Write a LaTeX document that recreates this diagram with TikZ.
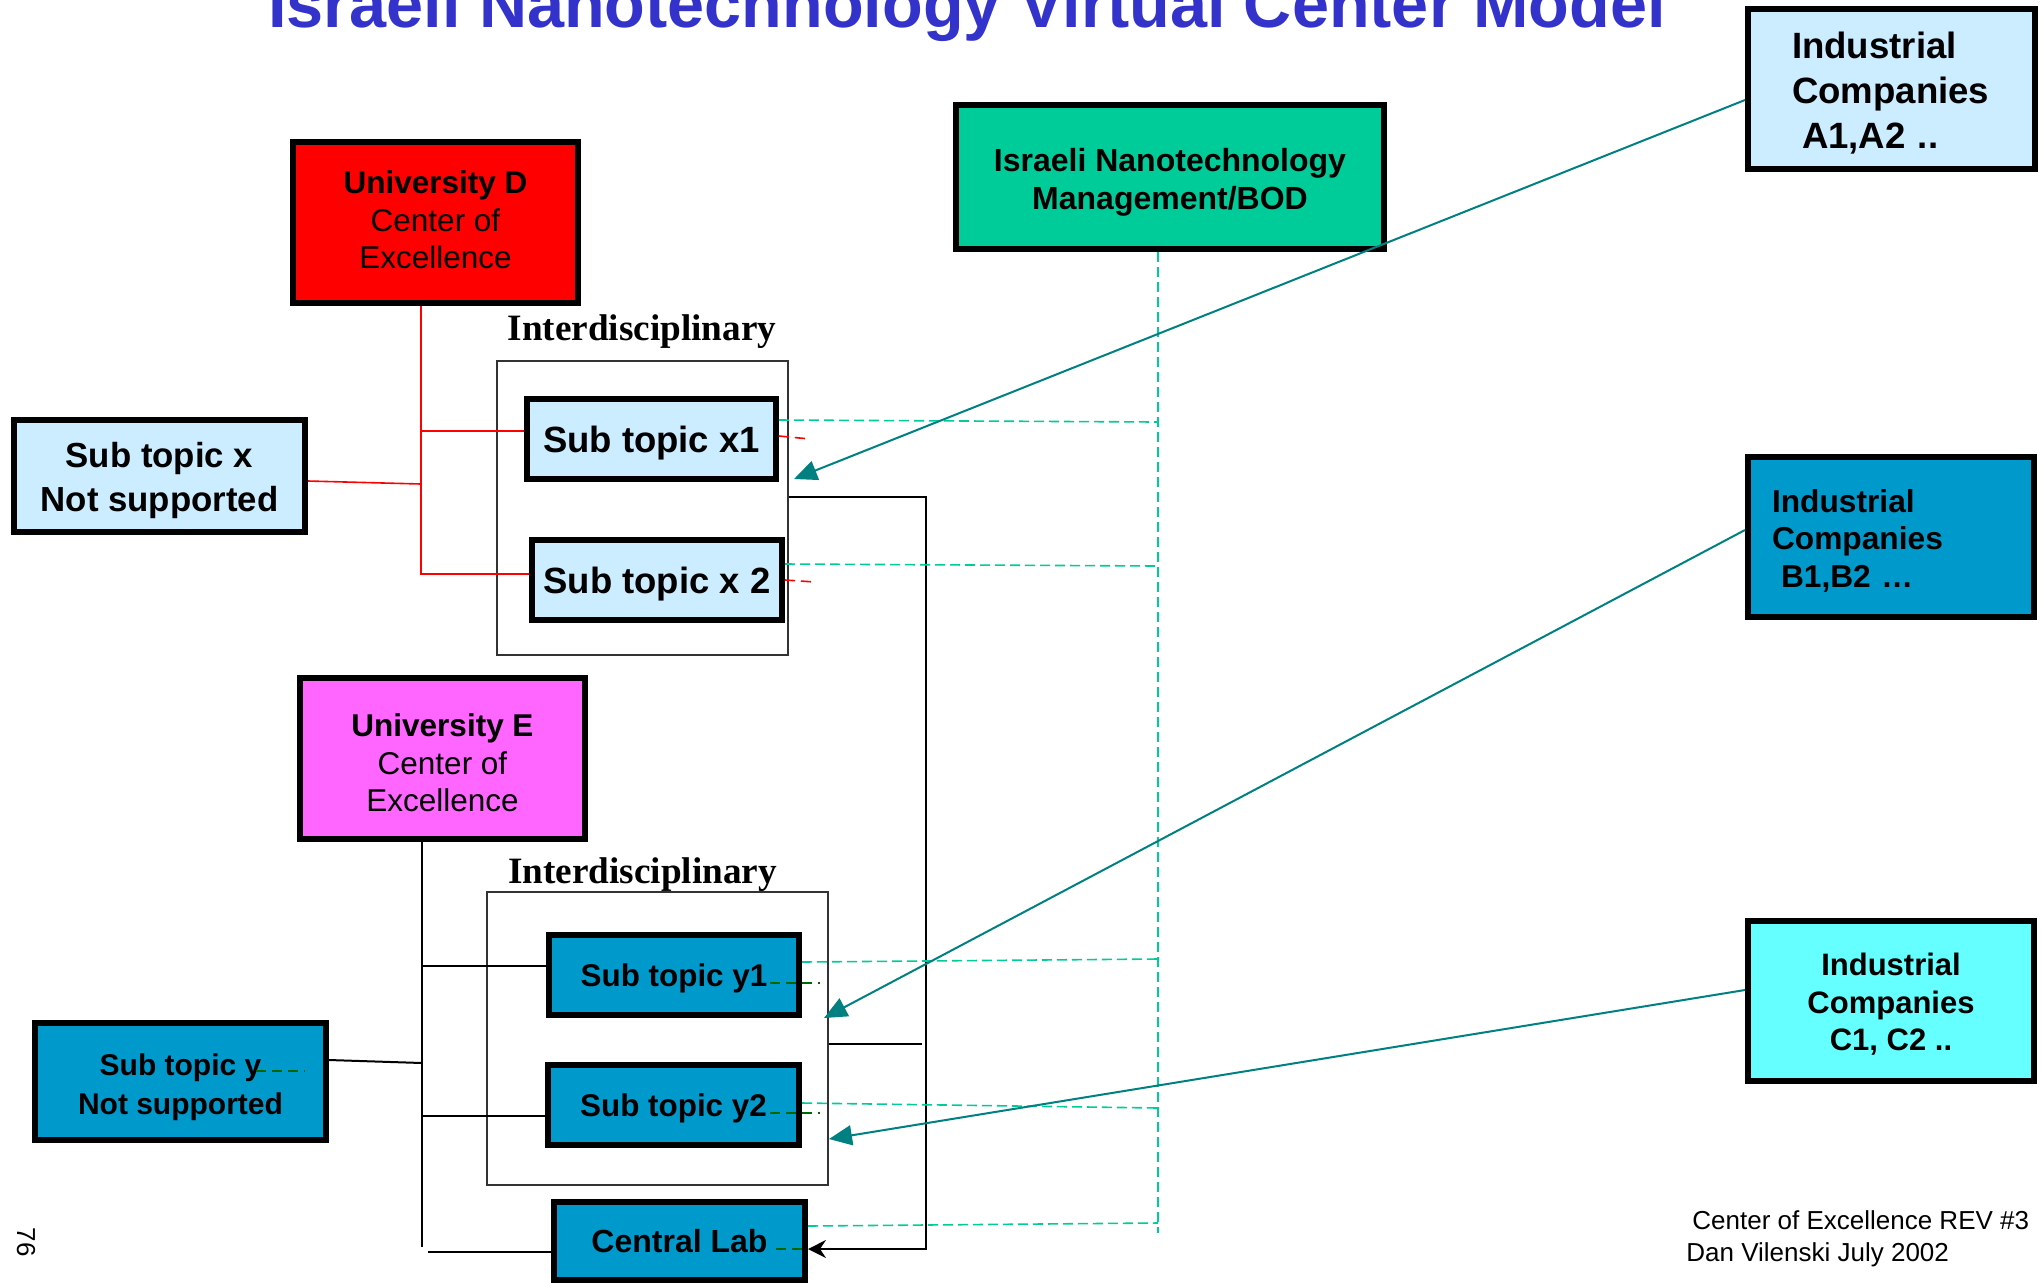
\documentclass[tikz,border=0pt]{standalone}
\usepackage{fontspec}
\setmainfont{Liberation Sans}
\newfontfamily\timesface{Liberation Serif}
\usetikzlibrary{arrows.meta}
\definecolor{titleblue}{HTML}{3333CC}
\definecolor{paleblue}{HTML}{CCECFF}
\definecolor{deepblue}{HTML}{0099CC}
\definecolor{mint}{HTML}{00CC99}
\definecolor{magentabox}{HTML}{FF66FF}
\definecolor{cyanbox}{HTML}{66FFFF}
\definecolor{linkteal}{HTML}{008080}
\definecolor{darkgreen}{HTML}{006600}
\newcommand\fsz[2]{\fontsize{#1}{#2}\selectfont}
% invisible strut that lowers a box's text block by half of #1
\newcommand\drop[1]{\rule{0pt}{\dimexpr0.74em+#1\relax}}
% invisible strut that raises a box's text block by half of #1
\newcommand\lift[1]{\rule[-#1]{0pt}{#1}}
\begin{document}
\begin{tikzpicture}[x=0.5pt,y=-0.5pt,
  box/.style={draw=black,line width=3pt,inner sep=0pt,align=center},
  frame/.style={draw=black!80,line width=0.75pt,inner sep=0pt},
  redline/.style={draw=red,line width=0.8pt},
  blackline/.style={draw=black,line width=1pt},
  busdash/.style={draw=mint,line width=0.8pt,dash pattern=on 5pt off 2.5pt},
  reddash/.style={draw=red,line width=0.8pt,dash pattern=on 5pt off 3pt},
  greendash/.style={draw=darkgreen,line width=0.9pt,dash pattern=on 5pt off 3pt},
  tealarrow/.style={draw=linkteal,line width=1pt,-{Triangle[length=11.5pt,width=10pt]}},
  feedarrow/.style={blackline,-{Stealth[length=9pt,width=9pt,inset=3pt]}},
  groupname/.style={font=\timesface\bfseries\fsz{18.6}{20}},
]
\useasboundingbox (0,0) rectangle (2042,1282);
\clip (0,0) rectangle (2042,1282);

% title
\node[anchor=base,font=\bfseries\fsz{33.3}{36},text=titleblue,inner sep=0pt]
  (title) at (967,27) {Israeli Nanotechnology Virtual Center Model};

% interdisciplinary frames
\node[frame,minimum width=145.5pt,minimum height=147pt] (frameX) at (642.5,508) {};
\node[frame,minimum width=170.5pt,minimum height=146.5pt] (frameY) at (657.5,1038.5) {};
\node[groupname,anchor=base,inner sep=0pt] (labX) at (642,340) {Interdisciplinary};
\node[groupname,anchor=base,inner sep=0pt] (labY) at (642.5,883) {Interdisciplinary};

% boxes
\node[box,fill=red,minimum width=142.5pt,minimum height=80.5pt,font=\fsz{15.75}{18.75}]
  (univD) at (435.5,222.5) {\textbf{University D}\\Center of\\Excellence\lift{2.5pt}};
\node[box,fill=paleblue,minimum width=145.5pt,minimum height=56pt,font=\bfseries\fsz{17.4}{22}]
  (subxn) at (159.5,476) {\drop{4pt}Sub topic x\\Not supported};
\node[box,fill=paleblue,minimum width=124.5pt,minimum height=40pt,font=\bfseries\fsz{18.25}{20}]
  (subx1) at (651.5,439) {\drop{3.5pt}Sub topic x1};
\node[box,fill=paleblue,minimum width=125pt,minimum height=40pt,font=\bfseries\fsz{18.25}{20}]
  (subx2) at (657,580) {\drop{3.5pt}Sub topic x 2};
\node[box,fill=mint,minimum width=214pt,minimum height=72pt,font=\bfseries\fsz{16}{19}]
  (mgmt) at (1170,177) {\drop{5pt}Israeli Nanotechnology\\Management/BOD};
\node[box,fill=paleblue,align=left,text width=99.5pt,inner xsep=22pt,minimum height=80pt,
  font=\bfseries\fsz{18.3}{22.5}]
  (indA) at (1891.5,89) {\drop{3.5pt}Industrial\\Companies\\\hspace*{5pt}A1,A2 ..};
\node[box,fill=deepblue,align=left,text width=119pt,inner xsep=12pt,minimum height=80pt,
  font=\bfseries\fsz{15.85}{18.75}]
  (indB) at (1891,537) {\drop{3.5pt}Industrial\\Companies\\\hspace*{4.5pt}B1,B2 \dots};
\node[box,fill=cyanbox,minimum width=143pt,minimum height=80pt,font=\bfseries\fsz{15.5}{18.75}]
  (indC) at (1891,1001) {\drop{3pt}Industrial\\Companies\\C1, C2 ..};
\node[box,fill=magentabox,minimum width=142.5pt,minimum height=80.5pt,font=\fsz{15.75}{18.75}]
  (univE) at (442.5,758.5) {\textbf{\drop{4pt}University E}\\Center of\\Excellence};
\node[box,fill=deepblue,minimum width=145.5pt,minimum height=58.5pt,font=\bfseries\fsz{15}{19.5}]
  (subyn) at (180.5,1081.5) {\drop{5pt}Sub topic y\\Not supported};
\node[box,fill=deepblue,minimum width=125pt,minimum height=40pt,font=\bfseries\fsz{15.7}{18}]
  (suby1) at (674,975) {\drop{3.5pt}Sub topic y1};
\node[box,fill=deepblue,minimum width=125.5pt,minimum height=40pt,font=\bfseries\fsz{15.7}{18}]
  (suby2) at (673.5,1105) {\drop{3.5pt}Sub topic y2};
\node[box,fill=deepblue,minimum width=125.5pt,minimum height=39pt,font=\bfseries\fsz{16}{18}]
  (clab) at (679.5,1241) {Central Lab};

% footer and page number
\node[anchor=base west,inner sep=0pt,font=\fsz{13}{15}] (footA) at (1692,1229) {Center of Excellence REV \#3};
\node[anchor=base west,inner sep=0pt,font=\fsz{13}{15}] (footB) at (1686,1261) {Dan Vilenski July 2002};
\node[rotate=-90,inner sep=0pt,font=\fsz{13}{15}] (pageno) at (26,1242) {76};

% junction points
\coordinate (dX1) at (421,431);
\coordinate (dXn) at (421,484);
\coordinate (dX2) at (421,574);
\coordinate (eY1) at (422,966);
\coordinate (eYn) at (422,1063);
\coordinate (eY2) at (422,1116);
\coordinate (eBot) at (422,1247);
\coordinate (eLab) at (428,1252);
\coordinate (fbTop) at (926,497);
\coordinate (fbBot) at (926,1249);
\coordinate (fbMid) at (922,1044);
\coordinate (bus1) at (1158,422);
\coordinate (bus2) at (1158,566);
\coordinate (bus3) at (1158,959);
\coordinate (bus4) at (1158,1108);
\coordinate (bus5) at (1158,1223);
\coordinate (busBot) at (1158,1233);
\coordinate (tipA) at (794,479);
\coordinate (tipB) at (824,1018);
\coordinate (tipC) at (829,1139);
\coordinate (rx1) at (810,439);
\coordinate (rx2) at (815,582);

% University D tree
\draw[redline] (univD.south -| dX1) -- (dX2) -- (subx2.west |- dX2);
\draw[redline] (dX1) -- (subx1.west |- dX1);
\draw[redline] ([yshift=-2.5pt]subxn.east) -- (dXn);

% University E tree
\draw[blackline] (univE.south -| eY1) -- (eBot);
\draw[blackline] (eY1) -- (suby1.west |- eY1);
\draw[blackline] (eY2) -- (suby2.west |- eY2);
\draw[blackline] ([yshift=10.75pt]subyn.east) -- (eYn);
\draw[blackline] (eLab) -- (clab.west |- eLab);

% feedback to the central lab
\draw[feedarrow] (frameX.east |- fbTop) -- (fbTop) -- (fbBot) -- (clab.east |- fbBot);
\draw[blackline] (frameY.east |- fbMid) -- (fbMid);

% management bus
\draw[busdash] (mgmt.south -| bus1) -- (busBot);
\draw[busdash] ([yshift=9.5pt]subx1.east) -- (bus1);
\draw[busdash] ([yshift=8pt]subx2.east) -- (bus2);
\draw[busdash] ([yshift=6.5pt]suby1.east) -- (bus3);
\draw[busdash] ([yshift=1pt]suby2.east) -- (bus4);
\draw[busdash] ([yshift=7.5pt]clab.east) -- (bus5);

% short dashed stubs
\draw[reddash] ([yshift=1.5pt]subx1.east) -- (rx1);
\draw[reddash] (subx2.east) -- (rx2);
\draw[greendash] ([xshift=-16pt,yshift=-4pt]suby1.east) -- ++(25pt,0);
\draw[greendash] ([xshift=-16pt,yshift=-4pt]suby2.east) -- ++(25pt,0);
\draw[greendash] ([xshift=-16pt,yshift=-4pt]clab.east) -- ++(15pt,0);
\draw[greendash] ([xshift=-36.5pt,yshift=5.25pt]subyn.east) -- ++(24.5pt,0);

% industry links
\draw[tealarrow] ([yshift=-5.5pt]indA.west) -- (tipA);
\draw[tealarrow] ([yshift=3.5pt]indB.west) -- (tipB);
\draw[tealarrow] ([yshift=5.5pt]indC.west) -- (tipC);
\end{tikzpicture}
\end{document}
